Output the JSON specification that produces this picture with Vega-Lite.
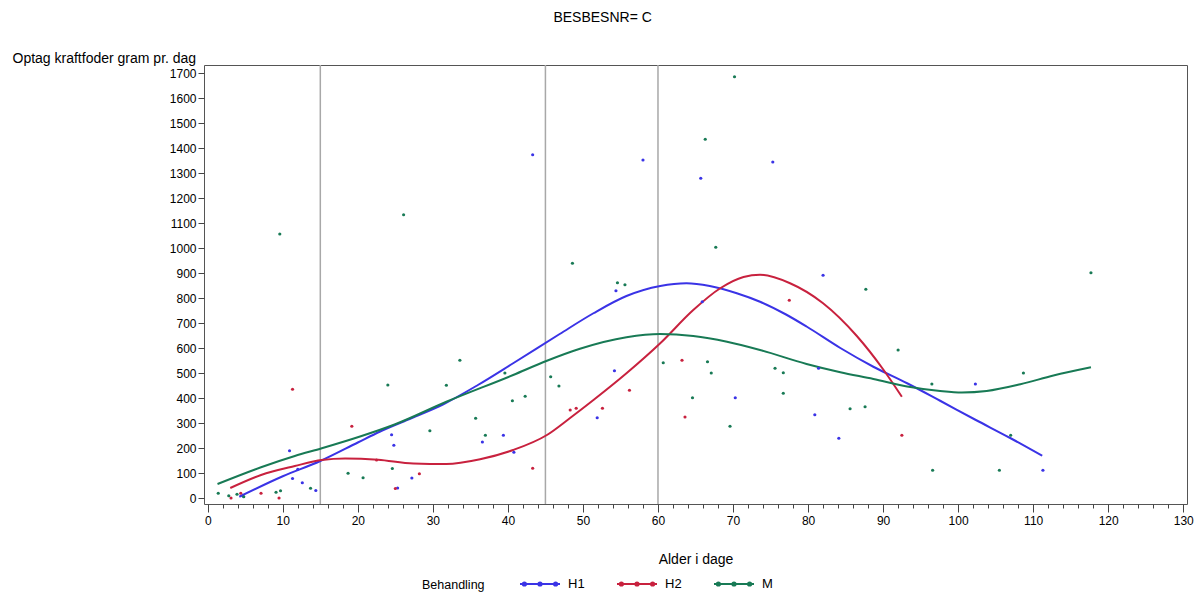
{
  "$schema": "https://vega.github.io/schema/vega-lite/v6.json",
  "width": 983,
  "height": 439,
  "autosize": {"type": "none"},
  "padding": {"left": 204, "top": 65, "right": 13, "bottom": 93},
  "background": "white",
  "title": {"text": "BESBESNR= C", "anchor": "middle", "frame": "bounds", "fontSize": 14, "fontWeight": "normal", "font": "Liberation Sans", "color": "#000", "offset": 26},
  "config": {
    "view": {"stroke": "#555", "strokeWidth": 1},
    "font": "Liberation Sans"
  },
  "datasets": {
    "refs": [{"x": 15}, {"x": 45}, {"x": 60}],
    "curves": [
      {"g": "H1", "x": 4.2, "y": 5}, {"g": "H1", "x": 10, "y": 87}, {"g": "H1", "x": 15, "y": 148}, {"g": "H1", "x": 20, "y": 222}, {"g": "H1", "x": 22.9, "y": 265}, {"g": "H1", "x": 27.2, "y": 320}, {"g": "H1", "x": 31.4, "y": 375}, {"g": "H1", "x": 36, "y": 452}, {"g": "H1", "x": 40.7, "y": 539}, {"g": "H1", "x": 46.9, "y": 656}, {"g": "H1", "x": 51.4, "y": 739}, {"g": "H1", "x": 55.8, "y": 808}, {"g": "H1", "x": 60.3, "y": 848}, {"g": "H1", "x": 63.8, "y": 859}, {"g": "H1", "x": 66.9, "y": 848}, {"g": "H1", "x": 70.5, "y": 819}, {"g": "H1", "x": 73.6, "y": 785}, {"g": "H1", "x": 77, "y": 735}, {"g": "H1", "x": 79.8, "y": 686}, {"g": "H1", "x": 84.3, "y": 600}, {"g": "H1", "x": 88.7, "y": 525}, {"g": "H1", "x": 93.2, "y": 459}, {"g": "H1", "x": 97.6, "y": 389}, {"g": "H1", "x": 102.3, "y": 313}, {"g": "H1", "x": 107, "y": 239}, {"g": "H1", "x": 111.2, "y": 169},
      {"g": "H2", "x": 3.0, "y": 40}, {"g": "H2", "x": 7.1, "y": 92}, {"g": "H2", "x": 11.6, "y": 128}, {"g": "H2", "x": 15.2, "y": 152}, {"g": "H2", "x": 18.3, "y": 158}, {"g": "H2", "x": 22.7, "y": 153}, {"g": "H2", "x": 27.4, "y": 138}, {"g": "H2", "x": 31.8, "y": 136}, {"g": "H2", "x": 36.3, "y": 155}, {"g": "H2", "x": 40.7, "y": 192}, {"g": "H2", "x": 45.2, "y": 252}, {"g": "H2", "x": 48.2, "y": 318}, {"g": "H2", "x": 51.4, "y": 392}, {"g": "H2", "x": 55.8, "y": 499}, {"g": "H2", "x": 60.3, "y": 619}, {"g": "H2", "x": 64.7, "y": 752}, {"g": "H2", "x": 68.3, "y": 839}, {"g": "H2", "x": 71.4, "y": 884}, {"g": "H2", "x": 73.6, "y": 893}, {"g": "H2", "x": 77.6, "y": 859}, {"g": "H2", "x": 82, "y": 779}, {"g": "H2", "x": 86.5, "y": 648}, {"g": "H2", "x": 90, "y": 515}, {"g": "H2", "x": 92.5, "y": 405},
      {"g": "M", "x": 1.3, "y": 56}, {"g": "M", "x": 7.1, "y": 123}, {"g": "M", "x": 11.6, "y": 168}, {"g": "M", "x": 15.2, "y": 199}, {"g": "M", "x": 20.5, "y": 248}, {"g": "M", "x": 24.9, "y": 294}, {"g": "M", "x": 31.8, "y": 385}, {"g": "M", "x": 40.7, "y": 492}, {"g": "M", "x": 45.2, "y": 549}, {"g": "M", "x": 49.6, "y": 597}, {"g": "M", "x": 55.8, "y": 643}, {"g": "M", "x": 60.3, "y": 656}, {"g": "M", "x": 64.7, "y": 648}, {"g": "M", "x": 69.2, "y": 625}, {"g": "M", "x": 73.6, "y": 592}, {"g": "M", "x": 79.8, "y": 536}, {"g": "M", "x": 84.3, "y": 503}, {"g": "M", "x": 88.7, "y": 476}, {"g": "M", "x": 93.2, "y": 446}, {"g": "M", "x": 97.6, "y": 428}, {"g": "M", "x": 100.5, "y": 422}, {"g": "M", "x": 103.8, "y": 428}, {"g": "M", "x": 108.3, "y": 455}, {"g": "M", "x": 112.7, "y": 490}, {"g": "M", "x": 117.7, "y": 523}
    ],
    "points": [
      {"g": "H1", "x": 4.7, "y": 8}, {"g": "H1", "x": 10.9, "y": 189}, {"g": "H1", "x": 11.3, "y": 78}, {"g": "H1", "x": 12.0, "y": 115}, {"g": "H1", "x": 12.6, "y": 61}, {"g": "H1", "x": 14.4, "y": 30}, {"g": "H1", "x": 24.5, "y": 253}, {"g": "H1", "x": 24.8, "y": 211}, {"g": "H1", "x": 25.3, "y": 40}, {"g": "H1", "x": 27.2, "y": 80}, {"g": "H1", "x": 36.6, "y": 224}, {"g": "H1", "x": 39.4, "y": 251}, {"g": "H1", "x": 40.8, "y": 183}, {"g": "H1", "x": 43.3, "y": 1373}, {"g": "H1", "x": 51.9, "y": 321}, {"g": "H1", "x": 54.2, "y": 509}, {"g": "H1", "x": 54.4, "y": 829}, {"g": "H1", "x": 58.0, "y": 1352}, {"g": "H1", "x": 65.7, "y": 1279}, {"g": "H1", "x": 65.9, "y": 785}, {"g": "H1", "x": 70.3, "y": 401}, {"g": "H1", "x": 75.3, "y": 1344}, {"g": "H1", "x": 80.9, "y": 333}, {"g": "H1", "x": 81.4, "y": 519}, {"g": "H1", "x": 82.0, "y": 891}, {"g": "H1", "x": 84.1, "y": 239}, {"g": "H1", "x": 102.3, "y": 456}, {"g": "H1", "x": 111.3, "y": 111},
      {"g": "H2", "x": 3.1, "y": 0}, {"g": "H2", "x": 4.4, "y": 19}, {"g": "H2", "x": 7.1, "y": 19}, {"g": "H2", "x": 9.5, "y": 0}, {"g": "H2", "x": 11.3, "y": 435}, {"g": "H2", "x": 19.2, "y": 287}, {"g": "H2", "x": 22.5, "y": 152}, {"g": "H2", "x": 25.0, "y": 38}, {"g": "H2", "x": 28.2, "y": 97}, {"g": "H2", "x": 43.3, "y": 119}, {"g": "H2", "x": 48.3, "y": 352}, {"g": "H2", "x": 49.1, "y": 359}, {"g": "H2", "x": 52.6, "y": 359}, {"g": "H2", "x": 56.2, "y": 431}, {"g": "H2", "x": 63.2, "y": 551}, {"g": "H2", "x": 63.6, "y": 324}, {"g": "H2", "x": 77.5, "y": 791}, {"g": "H2", "x": 92.5, "y": 251},
      {"g": "M", "x": 1.4, "y": 19}, {"g": "M", "x": 2.8, "y": 9}, {"g": "M", "x": 3.9, "y": 15}, {"g": "M", "x": 4.8, "y": 5}, {"g": "M", "x": 9.1, "y": 23}, {"g": "M", "x": 9.7, "y": 29}, {"g": "M", "x": 9.6, "y": 1056}, {"g": "M", "x": 13.7, "y": 39}, {"g": "M", "x": 18.7, "y": 99}, {"g": "M", "x": 20.7, "y": 81}, {"g": "M", "x": 24.0, "y": 452}, {"g": "M", "x": 24.6, "y": 118}, {"g": "M", "x": 26.1, "y": 1133}, {"g": "M", "x": 29.6, "y": 269}, {"g": "M", "x": 31.8, "y": 451}, {"g": "M", "x": 33.6, "y": 551}, {"g": "M", "x": 35.7, "y": 319}, {"g": "M", "x": 37.0, "y": 251}, {"g": "M", "x": 39.6, "y": 500}, {"g": "M", "x": 40.6, "y": 389}, {"g": "M", "x": 42.3, "y": 407}, {"g": "M", "x": 45.7, "y": 485}, {"g": "M", "x": 46.8, "y": 448}, {"g": "M", "x": 48.6, "y": 939}, {"g": "M", "x": 54.6, "y": 861}, {"g": "M", "x": 55.6, "y": 853}, {"g": "M", "x": 60.7, "y": 541}, {"g": "M", "x": 64.6, "y": 401}, {"g": "M", "x": 66.3, "y": 1435}, {"g": "M", "x": 66.6, "y": 545}, {"g": "M", "x": 67.1, "y": 500}, {"g": "M", "x": 67.7, "y": 1003}, {"g": "M", "x": 69.6, "y": 287}, {"g": "M", "x": 70.2, "y": 1685}, {"g": "M", "x": 75.6, "y": 519}, {"g": "M", "x": 76.7, "y": 501}, {"g": "M", "x": 76.7, "y": 419}, {"g": "M", "x": 85.6, "y": 357}, {"g": "M", "x": 87.6, "y": 365}, {"g": "M", "x": 87.7, "y": 835}, {"g": "M", "x": 92.0, "y": 592}, {"g": "M", "x": 96.5, "y": 456}, {"g": "M", "x": 96.6, "y": 111}, {"g": "M", "x": 105.5, "y": 111}, {"g": "M", "x": 107.0, "y": 251}, {"g": "M", "x": 108.7, "y": 500}, {"g": "M", "x": 117.7, "y": 901}
    ]
  },
  "encoding": {
    "x": {
      "field": "x", "type": "quantitative",
      "scale": {"domain": [-0.5, 130.5], "nice": false, "zero": false},
      "axis": {
        "values": [0,2,4,6,8,10,12,14,16,18,20,22,24,26,28,30,32,34,36,38,40,42,44,46,48,50,52,54,56,58,60,62,64,66,68,70,72,74,76,78,80,82,84,86,88,90,92,94,96,98,100,102,104,106,108,110,112,114,116,118,120,122,124,126,128,130],
        "labelExpr": "datum.value % 10 === 0 ? datum.label : ''",
        "tickSize": {"condition": {"test": "datum.value % 10 === 0", "value": 8}, "value": 4},
        "grid": false, "domain": false,
        "title": "Alder i dage", "titleFontSize": 14, "titleFontWeight": "normal", "titleColor": "#000",
        "titleY": 59, "titleBaseline": "alphabetic",
        "labelFontSize": 12, "labelColor": "#000", "labelPadding": 3, "labelOverlap": false, "labelFlush": false,
        "tickColor": "#444"
      }
    }
  },
  "layer": [
    {
      "data": {"name": "refs"},
      "mark": {"type": "rule", "color": "#a8a8a8", "strokeWidth": 1.5}
    },
    {
      "data": {"name": "curves"},
      "mark": {"type": "line", "strokeWidth": 2, "interpolate": "monotone"},
      "encoding": {
        "y": {
          "field": "y", "type": "quantitative",
          "scale": {"domain": [-24, 1732], "nice": false, "zero": false},
          "axis": {
            "values": [0,100,200,300,400,500,600,700,800,900,1000,1100,1200,1300,1400,1500,1600,1700],
            "format": "d", "labelOverlap": false, "labelBound": false,
            "grid": false, "domain": false,
            "title": "Optag kraftfoder gram pr. dag", "titleAngle": 0, "titleAlign": "left", "titleBaseline": "alphabetic",
            "titleX": -192, "titleY": -3, "titleFontSize": 14, "titleFontWeight": "normal", "titleColor": "#000",
            "labelFontSize": 12, "labelColor": "#000", "tickSize": 6, "labelPadding": 2, "tickColor": "#444"
          }
        },
        "color": {
          "field": "g", "type": "nominal",
          "scale": {"domain": ["H1", "H2", "M"], "range": ["#3a33e6", "#c8213e", "#187a55"]},
          "legend": {
            "orient": "none", "legendX": 218, "legendY": 498, "direction": "horizontal",
            "title": "Behandling", "titleOrient": "left", "titleFontSize": 12.5, "titleFontWeight": "normal", "titleColor": "#000",
            "titlePadding": 34, "titleBaseline": "line-top", "titleLineHeight": 44, "titleAnchor": "start",
            "labelFontSize": 13, "labelColor": "#000", "labelOffset": 7, "columnPadding": 28,
            "symbolType": "M-1,0H1M-0.86,0a0.08,0.08 0 1,0 0.16,0a0.08,0.08 0 1,0 -0.16,0M-0.08,0a0.08,0.08 0 1,0 0.16,0a0.08,0.08 0 1,0 -0.16,0M0.7,0a0.08,0.08 0 1,0 0.16,0a0.08,0.08 0 1,0 -0.16,0",
            "symbolSize": 1600, "symbolStrokeWidth": 2,
            "encode": {"symbols": {"update": {"stroke": {"scale": "color", "field": "value"}, "fill": {"scale": "color", "field": "value"}, "opacity": {"value": 1}}}}
          }
        }
      }
    },
    {
      "data": {"name": "points"},
      "mark": {"type": "point", "filled": true, "size": 10, "opacity": 1},
      "encoding": {
        "y": {
          "field": "y", "type": "quantitative",
          "scale": {"domain": [-24, 1732], "nice": false, "zero": false},
          "axis": {
            "values": [0,100,200,300,400,500,600,700,800,900,1000,1100,1200,1300,1400,1500,1600,1700],
            "format": "d", "labelOverlap": false, "labelBound": false,
            "grid": false, "domain": false,
            "title": "Optag kraftfoder gram pr. dag", "titleAngle": 0, "titleAlign": "left", "titleBaseline": "alphabetic",
            "titleX": -192, "titleY": -3, "titleFontSize": 14, "titleFontWeight": "normal", "titleColor": "#000",
            "labelFontSize": 12, "labelColor": "#000", "tickSize": 6, "labelPadding": 2, "tickColor": "#444"
          }
        },
        "color": {"field": "g", "type": "nominal"}
      }
    }
  ]
}
